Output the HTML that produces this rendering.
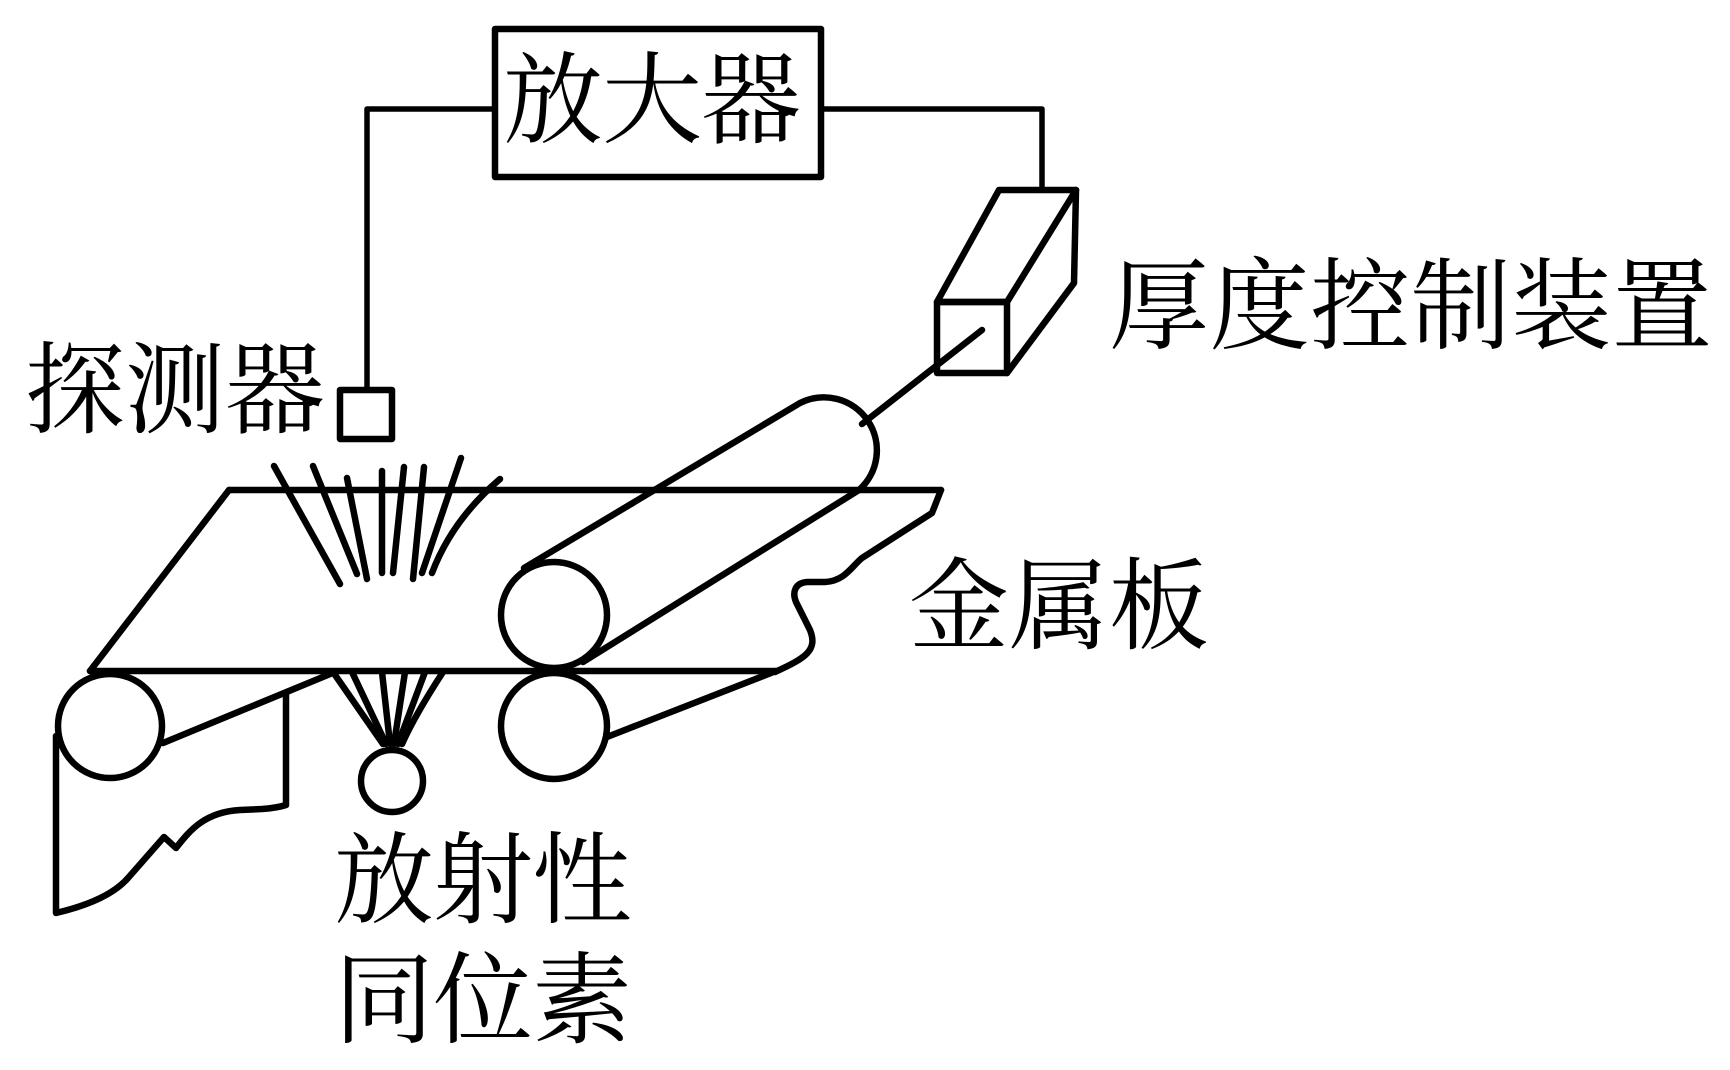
<!DOCTYPE html>
<html>
<head>
<meta charset="utf-8">
<style>
html,body{margin:0;padding:0;background:#fff;}
svg{display:block;}
text{font-family:"Liberation Serif","Noto Serif CJK SC","Noto Sans CJK SC",serif;fill:#000;}
</style>
</head>
<body>
<svg width="1730" height="1070" viewBox="0 0 1730 1070" xmlns="http://www.w3.org/2000/svg">
<g fill="none" stroke="#000" stroke-width="6.5" stroke-linecap="round" stroke-linejoin="round">
  <!-- amplifier box -->
  <rect x="495" y="29" width="326" height="148"/>
  <!-- wires -->
  <polyline points="495,109 367,109 367,390" stroke-width="5.5"/>
  <polyline points="821,109 1042,109 1042,190" stroke-width="5.5"/>
  <!-- detector -->
  <rect x="340" y="390" width="52" height="49"/>
  <!-- thickness control 3D box -->
  <polygon points="999,190 1076,190 1007,302 937,302"/>
  <rect x="937" y="302" width="70" height="71"/>
  <polyline points="1076,190 1074,283 1007,373"/>
  <!-- control rod line -->
  <line x1="982" y1="330" x2="862" y2="424"/>
  <!-- metal plate -->
  <line x1="229" y1="490" x2="941" y2="490"/>
  <line x1="229" y1="490" x2="90" y2="671"/>
  <line x1="90" y1="671" x2="776" y2="671"/>
  <path d="M941,490 L932,513 L862,558 C852,566 845,581 825,582 L807,582 C795,583 792,592 796,602 L810,630 C818,650 806,658 775,672"/>
  <!-- top roller cylinder -->
  <circle cx="554" cy="615" r="53" fill="#fff"/>
  <path d="M524,568 L800,403 A53,53 0 0 1 859,490"/>
  <line x1="583" y1="662" x2="859" y2="490"/>
  <!-- bottom right roller -->
  <circle cx="554" cy="726" r="53"/>
  <line x1="607" y1="737" x2="776" y2="671"/>
  <!-- left roller and lower sheet -->
  <circle cx="110" cy="726" r="52"/>
  <line x1="163" y1="743" x2="335" y2="672"/>
  <path d="M56,736 L56,913 C90,905 115,893 128,878 L164,837 L176,848 C190,830 205,812 240,810 L262,809 C276,808 283,806 286,805 L286,693"/>
  <!-- rays above plate -->
  <line x1="274" y1="466" x2="340" y2="584"/>
  <line x1="313" y1="466" x2="357" y2="574"/>
  <line x1="347" y1="478" x2="367" y2="579"/>
  <line x1="382" y1="471" x2="382" y2="573"/>
  <line x1="404" y1="467" x2="393" y2="573"/>
  <line x1="424" y1="467" x2="413" y2="579"/>
  <line x1="461" y1="458" x2="422" y2="573"/>
  <path d="M500,479 Q452,520 432,573"/>
  <!-- rays below plate -->
  <line x1="333" y1="672" x2="383" y2="744"/>
  <line x1="352" y1="672" x2="386" y2="744"/>
  <line x1="382" y1="672" x2="390" y2="744"/>
  <line x1="405" y1="672" x2="394" y2="744"/>
  <line x1="425" y1="672" x2="398" y2="744"/>
  <path d="M443,672 Q415,715 402,744"/>
  <!-- radioactive source -->
  <circle cx="392" cy="781" r="31" fill="#fff"/>
</g>
<g font-size="100">
  <text x="503" y="135" textLength="298" lengthAdjust="spacing">放大器</text>
  <text x="25" y="425" textLength="300" lengthAdjust="spacing">探测器</text>
  <text x="1109" y="341" textLength="603" lengthAdjust="spacing">厚度控制装置</text>
  <text x="909" y="641" textLength="300" lengthAdjust="spacing">金属板</text>
  <text x="334" y="915" textLength="298" lengthAdjust="spacing">放射性</text>
  <text x="334" y="1035" textLength="298" lengthAdjust="spacing">同位素</text>
</g>
</svg>
</body>
</html>
